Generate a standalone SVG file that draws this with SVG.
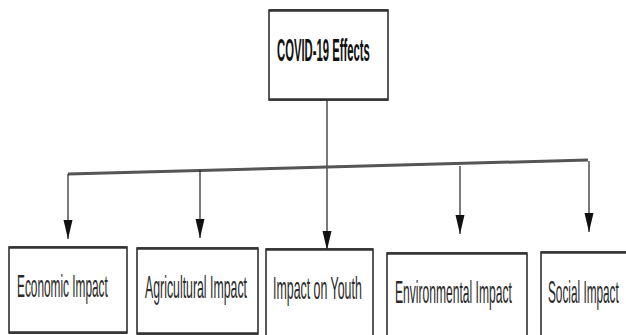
<svg xmlns="http://www.w3.org/2000/svg" width="626" height="335" viewBox="0 0 626 335">
<defs>
<style>
.box{fill:#fff;stroke:#222;stroke-width:1.5}
.edge{stroke:#333;stroke-width:2.5}
.lbl{font-family:"Liberation Sans",Arial,sans-serif;font-size:32px;fill:#2a2a2a}
.ttl{font-family:"Liberation Sans",Arial,sans-serif;font-size:32px;font-weight:bold;fill:#111}
.ln{stroke:#222;stroke-width:1.2;fill:none}
.bus{stroke:#555;stroke-width:3;fill:none}
</style>
<marker id="ah2" markerUnits="userSpaceOnUse" markerWidth="20" markerHeight="10" refX="19" refY="4.5" orient="auto">
<path d="M0,0 L19,4.5 L0,9 Z" fill="#111"/>
</marker>
</defs>
<g id="connectors">
<line class="ln" x1="327" y1="100" x2="327" y2="250" marker-end="url(#ah2)"/>
<path class="bus" d="M68,174 L588,160"/>
<line class="ln" x1="68" y1="174" x2="68" y2="239" marker-end="url(#ah2)"/>
<line class="ln" x1="200" y1="170" x2="200" y2="238" marker-end="url(#ah2)"/>
<line class="ln" x1="460" y1="166" x2="460" y2="234" marker-end="url(#ah2)"/>
<line class="ln" x1="589" y1="161" x2="589" y2="232" marker-end="url(#ah2)"/>
</g>
<g id="covid">
<rect class="box" x="269" y="10" width="119" height="90"/>
<line class="edge" x1="269" y1="10.5" x2="388" y2="10.5"/>
<line class="edge" x1="269" y1="99.5" x2="388" y2="99.5"/>
<text class="ttl" transform="translate(277,61) scale(0.4,1)" x="0" y="0" textLength="232" lengthAdjust="spacingAndGlyphs">COVID-19 Effects</text>
</g>
<g id="economic">
<rect class="box" x="9" y="247" width="118" height="86"/>
<line class="edge" x1="9" y1="247.5" x2="127" y2="247.5"/>
<line class="edge" x1="9" y1="332.5" x2="127" y2="332.5"/>
<text class="lbl" transform="translate(17,297) scale(0.4,1)" x="0" y="0" textLength="227" lengthAdjust="spacingAndGlyphs">Economic Impact</text>
</g>
<g id="agricultural">
<rect class="box" x="137" y="248" width="121" height="86"/>
<line class="edge" x1="137" y1="248.5" x2="258" y2="248.5"/>
<line class="edge" x1="137" y1="333.5" x2="258" y2="333.5"/>
<text class="lbl" transform="translate(145,298) scale(0.4,1)" x="0" y="0" textLength="255" lengthAdjust="spacingAndGlyphs">Agricultural Impact</text>
</g>
<g id="youth">
<rect class="box" x="266" y="249" width="107" height="100"/>
<line class="edge" x1="266" y1="249.5" x2="373" y2="249.5"/>
<text class="lbl" transform="translate(273,299) scale(0.4,1)" x="0" y="0" textLength="222" lengthAdjust="spacingAndGlyphs">Impact on Youth</text>
</g>
<g id="environmental">
<rect class="box" x="387" y="253" width="140" height="100"/>
<line class="edge" x1="387" y1="253.5" x2="527" y2="253.5"/>
<text class="lbl" transform="translate(395,303) scale(0.4,1)" x="0" y="0" textLength="292" lengthAdjust="spacingAndGlyphs">Environmental Impact</text>
</g>
<g id="social">
<rect class="box" x="541" y="252" width="100" height="100"/>
<line class="edge" x1="541" y1="252.5" x2="626" y2="252.5"/>
<text class="lbl" transform="translate(548,303) scale(0.4,1)" x="0" y="0" textLength="177" lengthAdjust="spacingAndGlyphs">Social Impact</text>
</g>
</svg>
